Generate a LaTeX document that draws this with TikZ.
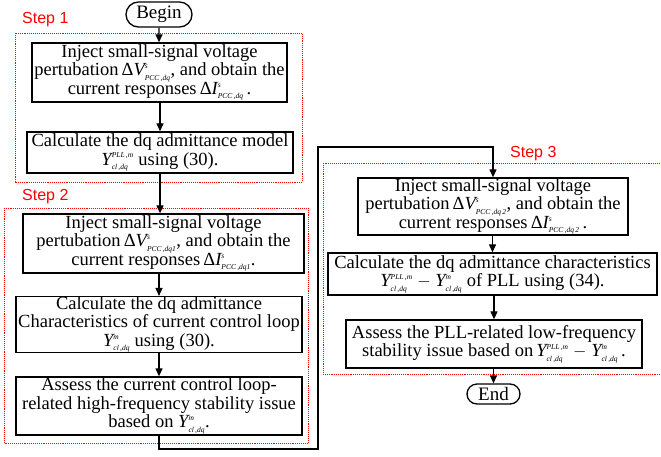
\documentclass[tikz,border=0pt]{standalone}
\usepackage{fontspec}
\setmainfont{Liberation Serif}
\newfontfamily\stepfont{Liberation Sans}
\usetikzlibrary{arrows.meta,shapes.misc}
% small italic indices for the admittance and perturbation symbols
\newcommand\ix[1]{\hbox{\fontsize{7.5}{7.5}\selectfont\itshape #1}}
\newcommand\qv[3]{\ensuremath{\textit{#1}^{\ix{#2}}_{\ix{#3}}}}
\definecolor{stepred}{RGB}{255,0,0}
\begin{document}
\begin{tikzpicture}[x=1pt,y=-1pt,
  box/.style={draw,line width=1.4pt,inner sep=0pt,align=center,
    font=\fontsize{18.5}{18.5}\selectfont},
  term/.style={draw,line width=1.3pt,rounded rectangle,inner sep=0pt,
    font=\fontsize{19}{19}\selectfont},
  group/.style={draw=stepred,densely dotted,line width=0.9pt},
  steplbl/.style={text=stepred,anchor=base west,inner sep=0pt,
    font=\stepfont\fontsize{16}{18}\selectfont},
  flow/.style={line width=1.3pt,-{Triangle[length=8pt,width=7pt]}}]
\path[use as bounding box] (0,0) rectangle (661,456);

% dotted step frames
\draw[group] (15,33) rectangle (302,182);
\draw[group] (4,208) rectangle (308,443);
\draw[group] (323,163) rectangle (668,374);
\node[steplbl] (s1) at (22,23) {Step 1};
\node[steplbl] (s2) at (22,200) {Step 2};
\node[steplbl] (s3) at (510,157) {Step 3};

% terminals
\node[term,minimum width=66,minimum height=25] (begin) at (159,14.5) {Begin};
\node[term,minimum width=53,minimum height=20] (end) at (493.5,394) {End};

% step 1
\node[box,minimum width=255,minimum height=59] (b1) at (159.5,72.5)
  {Inject small-signal voltage\\
   pertubation\,Δ\qv{V}{s}{PCC\,,dq}, and obtain the\\
   current responses\,Δ\qv{I}{s}{PCC\,,dq}\,.};
\node[box,minimum width=266,minimum height=41] (b2) at (160,152.5)
  {Calculate the dq admittance model\\
   \qv{Y}{PLL\,,m}{cl\,,dq} using (30).};

% step 2
\node[box,minimum width=281,minimum height=59] (b3) at (163.5,243.5)
  {Inject small-signal voltage\\
   pertubation\,Δ\qv{V}{s}{PCC\,,dq1}, and obtain the\\
   current responses\,Δ\qv{I}{s}{PCC\,,dq1}.};
\node[box,minimum width=286,minimum height=53] (b4) at (159,324.5)
  {Calculate the dq admittance\\
   Characteristics of current control loop\\
   \qv{Y}{m}{cl\,,dq} using (30).};
\node[box,minimum width=286,minimum height=58] (b5) at (159,406)
  {Assess the current control loop-\\
   related high-frequency stability issue\\
   based on \qv{Y}{m}{cl\,,dq}.};

% step 3
\node[box,minimum width=270,minimum height=57] (b6) at (493,206.5)
  {Inject small-signal voltage\\
   pertubation\,Δ\qv{V}{s}{PCC\,,dq\,2}, and obtain the\\
   current responses\,Δ\qv{I}{s}{PCC\,,dq\,2}\,.};
\node[box,minimum width=329,minimum height=42] (b7) at (492.5,274)
  {Calculate the dq admittance characteristics\\
   \qv{Y}{PLL\,,m}{cl\,,dq} $-$ \qv{Y}{m}{cl\,,dq} of PLL using (34).};
\node[box,minimum width=296,minimum height=48] (b8) at (494,344)
  {Assess the PLL-related low-frequency\\
   stability issue based on\,\qv{Y}{PLL\,,m}{cl\,,dq} $-$ \qv{Y}{m}{cl\,,dq}\,.};

% routing corners of the step 2 -> step 3 connector
\coordinate (c1) at (318,449);
\coordinate (c2) at (318,147);

% connectors
\draw[flow] (begin) -- (begin |- b1.north);
\draw[flow] (b1.south -| b2.north) -- (b2.north);
\draw[flow] (b2.south) -- (b2.south |- b3.north);
\draw[flow] (b3.south -| b4.north) -- (b4.north);
\draw[flow] (b4) -- (b5);
\draw[flow] (b5.south) |- (c1) -- (c2) -| (b6.north);
\draw[flow] (b6.south -| b7.north) -- (b7.north);
\draw[flow] (b7.south -| b8.north) -- (b8.north);
\draw[flow] (b8.south -| end.north) -- (end.north);
\end{tikzpicture}
\end{document}
